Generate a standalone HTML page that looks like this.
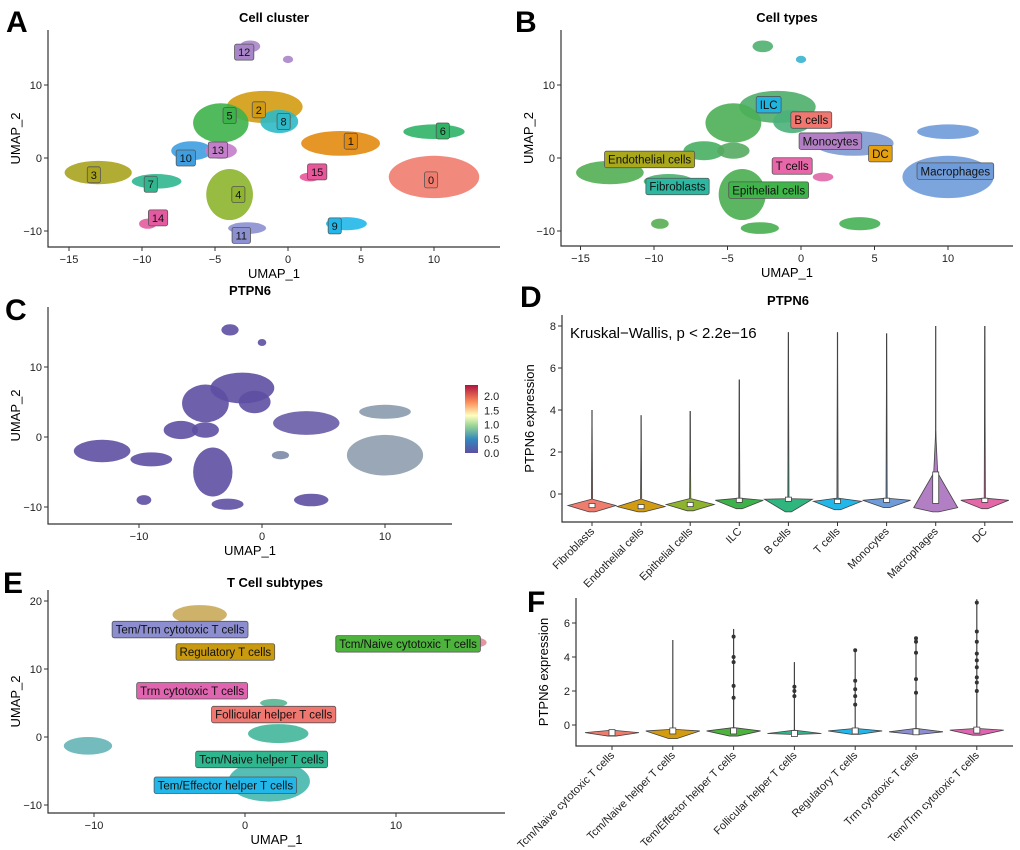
<!DOCTYPE html>
<html><head><meta charset="utf-8"><style>
html,body{margin:0;padding:0;background:#fff;}
svg{display:block;font-family:"Liberation Sans",Arial,sans-serif;}
</style></head><body>
<svg id="fig" width="1020" height="850" viewBox="0 0 1020 850" xmlns="http://www.w3.org/2000/svg"></svg>
<script>
// ---------- DATA ----------
const clusterIds = ['0','1','2','3','4','5','6','7','8','9','10','11','12','13','14','15','12b'];
const clusterCx = [10,3.6,-1.6,-13,-4,-4.6,10,-9,-0.6,4,-6.6,-2.8,-2.6,-4.6,-9.6,1.5,0];
const clusterCy = [-2.6,2,7,-2,-5,4.8,3.6,-3.2,5,-9,1,-9.6,15.3,1,-9,-2.6,13.5];
const clusterRx = [3.1,2.7,2.6,2.3,1.6,1.9,2.1,1.7,1.3,1.4,1.4,1.3,0.7,1.1,0.6,0.7,0.35];
const clusterRy = [2.9,1.7,2.2,1.6,3.5,2.7,1.0,1.0,1.6,0.9,1.3,0.8,0.8,1.1,0.7,0.6,0.5];
const colorsA = ['#F07C6E','#E3890F','#D39B10','#A9A31E','#8DB42C','#3DB24A','#2FB467','#2FB68F','#2EBAC8','#22B7E8','#3F9EE0','#8C90D0','#A885C9','#C37DCB','#E45AA0','#E7579A','#A885C9'];
const colorsB = ['#6F9BD9','#7D9AD2','#4EAE6A','#52AE52','#4AAE50','#4BAF56','#6F9BD9','#4DB06E','#4BB07A','#45B055','#48AF62','#48AE4F','#4FB070','#55AA60','#58AE52','#E066A8','#3BB4D0'];
const colorsC = ['#8E9DAE','#685CA6','#5E4FA2','#5E4FA2','#5E4FA2','#5E4FA2','#8A9BAE','#5E4FA2','#5E4FA2','#5E4FA2','#5E4FA2','#5E4FA2','#5E4FA2','#5E4FA2','#5E4FA2','#7C89A6','#5E4FA2'];
const labelsA = ['12','2','5','8','1','6','10','13','15','0','3','7','4','14','11','9'];
const labelAx = [-3,-2,-4,-0.3,4.3,10.6,-7,-4.8,2,9.8,-13.3,-9.4,-3.4,-8.9,-3.2,3.2];
const labelAy = [14.5,6.6,5.8,5,2.3,3.7,0,1.1,-1.9,-3,-2.3,-3.6,-5,-8.2,-10.6,-9.3];
const labelAcol = ['#A885C9','#D39B10','#3DB24A','#2EBAC8','#E3890F','#2FB467','#3F9EE0','#C37DCB','#E7579A','#F07C6E','#A9A31E','#2FB68F','#8DB42C','#E45AA0','#8C90D0','#22B7E8'];
const labelsB = ['ILC','B cells','Monocytes','DC','T cells','Macrophages','Endothelial cells','Fibroblasts','Epithelial cells'];
const labelBx = [-2.2,0.7,2,5.4,-0.6,10.5,-10.3,-8.4,-2.2];
const labelBy = [7.3,5.2,2.3,0.6,-1.1,-1.8,-0.2,-3.9,-4.4];
const labelBcol = ['#1DB4E0','#F07670','#B27FC4','#E5A00F','#E867A9','#6F9BD9','#A9A81C','#2CB8A0','#3EB449'];
const umapXTicks = [-15,-10,-5,0,5,10];
const umapYTicks = [-10,0,10];
const cXTicks = [-10,0,10];
const colorbarTicks = ['0.0','0.5','1.0','1.5','2.0'];

const dCats = ['Fibroblasts','Endothelial cells','Epithelial cells','ILC','B cells','T cells','Monocytes','Macrophages','DC'];
const dColors = ['#F07C6E','#D39B10','#8DB42C','#3DB24A','#2FB67E','#22B7E8','#6F9BD9','#B27FC4','#E467A8'];
const dMax = [4.0,3.75,3.95,5.45,7.7,7.7,7.65,8.0,8.0];
const dMin = [-0.85,-0.85,-0.8,-0.7,-0.85,-0.75,-0.65,-0.85,-0.7];
const dMed = [-0.55,-0.6,-0.5,-0.3,-0.25,-0.35,-0.3,-0.35,-0.3];
const dTop = [-0.25,-0.25,-0.22,-0.2,-0.22,-0.2,-0.2,-0.1,-0.2];
const dQ3 = [-0.45,-0.5,-0.4,-0.25,-0.22,-0.3,-0.25,1.05,-0.22];
const dYTicks = [0,2,4,6,8];

const fCats = ['Tcm/Naive cytotoxic T cells','Tcm/Naive helper T cells','Tem/Effector helper T cells','Follicular helper T cells','Regulatory T cells','Trm cytotoxic T cells','Tem/Trm cytotoxic T cells'];
const fColors = ['#F07C6E','#D39B10','#4DB33D','#2FB68F','#22B7E8','#8C8ED0','#E064B0'];
const fMax = [-0.3,5.0,5.65,3.7,4.4,5.15,7.4];
const fMin = [-0.65,-0.8,-0.65,-0.55,-0.55,-0.55,-0.6];
const fMed = [-0.45,-0.35,-0.35,-0.5,-0.35,-0.4,-0.3];
const fTop = [-0.3,-0.25,-0.15,-0.3,-0.2,-0.2,-0.2];
const fOutY = [[],[],[1.6,2.3,3.7,4.0,5.2],[1.7,2.0,2.25],[1.2,1.7,2.1,2.6,4.4],[1.9,2.7,4.25,4.9,5.1],[2.0,2.5,2.8,3.4,3.8,4.2,4.9,5.5,7.2]];
const fYTicks = [0,2,4,6];

const eCx = [-3,15.3,-10.4,1.9,2.2,1.6];
const eCy = [18,13.9,-1.3,5,0.5,-6.5];
const eRx = [1.8,0.7,1.6,0.9,2.0,2.7];
const eRy = [1.4,0.7,1.3,0.6,1.4,3.0];
const eCol = ['#C6A550','#D9878E','#5AAFB0','#4FB08C','#37B293','#3AB3A8'];
const eLabels = ['Tem/Trm cytotoxic T cells','Regulatory T cells','Tcm/Naive cytotoxic T cells','Trm cytotoxic T cells','Follicular helper T cells','Tcm/Naive helper T cells','Tem/Effector helper T cells'];
const eLx = [-4.3,-1.3,10.8,-3.5,1.9,1.1,-1.3];
const eLy = [15.8,12.5,13.7,6.8,3.3,-3.3,-7.1];
const eLcol = ['#8C8ED0','#C99A0E','#4DB33D','#E064B0','#F07670','#2FB68F','#22B7E8'];
const eXTicks = [-10,0,10];
const eYTicks = [-10,0,10,20];

// ---------- HELPERS ----------
const NS='http://www.w3.org/2000/svg';
const svg=document.getElementById('fig');
function mk(tag,parent,attrs){const e=document.createElementNS(NS,tag);for(const k in attrs)e.setAttribute(k,attrs[k]);parent.appendChild(e);return e;}
function txt(parent,s,x,y,size,opt){const t=mk('text',parent,Object.assign({x:x,y:y,'font-size':size,fill:'#000'},opt||{}));t.textContent=s;return t;}
function lin(a0,a1,p0,p1){return v=>p0+(v-a0)*(p1-p0)/(a1-a0);}

function axes(g,x,y,box,xt,yt,xlab,ylab){
  const ax=mk('path',g,{d:`M${box.l},${box.t}V${box.b}H${box.r}`,stroke:'#333',fill:'none','stroke-width':1.2});
  
  
  xt.forEach(v=>{mk('line',g,{x1:x(v),x2:x(v),y1:box.b,y2:box.b+4,stroke:'#333'});
    const t=txt(g,v<0?'\u2212'+(-v):String(v),x(v),box.b+16,11,{'text-anchor':'middle',fill:'#222'});
    
    });
  yt.forEach(v=>{mk('line',g,{x1:box.l-4,x2:box.l,y1:y(v),y2:y(v),stroke:'#333'});
    const t=txt(g,v<0?'\u2212'+(-v):String(v),box.l-6,y(v)+4,11,{'text-anchor':'end',fill:'#222'});
    
    });
  if(xlab){const t=txt(g,xlab,(box.l+box.r)/2,box.b+31,13,{'text-anchor':'middle'});
    
    }
  if(ylab){const yy=(box.t+box.b)/2;const t=txt(g,ylab,0,0,13,{'text-anchor':'middle',transform:`translate(${box.l-28},${yy}) rotate(-90)`});
    
    }
}
function title(g,s,x,y){const t=txt(g,s,x,y,13,{'text-anchor':'middle','font-weight':'bold'});
  
  }
function letter(g,s,x,y){const t=txt(g,s,x,y,30,{'font-weight':'bold'});
  
  }
function tag(g,s,cx,cy,col,size){
  const r=mk('rect',g,{rx:2,fill:col,stroke:'#555','stroke-width':0.8});
  
  
  const t=txt(g,s,cx,cy+size*0.36,size,{'text-anchor':'middle',fill:'#111'});
  
  
  let w=s.length*size*0.5;
  try{w=t.getComputedTextLength();}catch(e){}
  w+=7;const h=size+5;
  r.setAttribute('x',cx-w/2);r.setAttribute('y',cy-h/2);r.setAttribute('width',w);r.setAttribute('height',h);
}
function umapPanel(name,box,xs,ys,colors){
  const g=mk('g',svg,{});
  
  
  clusterIds.forEach((id,i)=>{
    const e=mk('ellipse',g,{cx:xs(clusterCx[i]),cy:ys(clusterCy[i]),rx:Math.abs(xs(clusterRx[i])-xs(0)),ry:Math.abs(ys(clusterRy[i])-ys(0)),fill:colors[i],opacity:0.9});
    
    
  });
  return g;
}

// ---------- PANEL A ----------
{
  const box={l:48,r:500,t:30,b:247};
  const x=lin(0,10,288,434), y=lin(0,10,158,85);
  const g=umapPanel('panel-a-cluster-umap',box,x,y,colorsA);
  axes(g,x,y,box,umapXTicks,umapYTicks,'UMAP_1','UMAP_2');
  title(g,'Cell cluster',274,22);letter(g,'A',6,32);
  labelsA.forEach((s,i)=>tag(g,s,x(labelAx[i]),y(labelAy[i]),labelAcol[i],11));
}
// ---------- PANEL B ----------
{
  const box={l:561,r:1013,t:30,b:246};
  const x=lin(0,10,801,948), y=lin(0,10,158,85);
  const g=umapPanel('panel-b-celltype-umap',box,x,y,colorsB);
  axes(g,x,y,box,umapXTicks,umapYTicks,'UMAP_1','UMAP_2');
  title(g,'Cell types',787,22);letter(g,'B',515,32);
  labelsB.forEach((s,i)=>tag(g,s,x(labelBx[i]),y(labelBy[i]),labelBcol[i],11.5));
}
// ---------- PANEL C ----------
{
  const box={l:48,r:452,t:307,b:524};
  const x=lin(0,10,262,385), y=lin(0,10,437,367);
  const g=umapPanel('panel-c-ptpn6-umap',box,x,y,colorsC);
  axes(g,x,y,box,cXTicks,umapYTicks,'UMAP_1','UMAP_2');
  title(g,'PTPN6',250,295);letter(g,'C',5,320);
  const defs=mk('defs',g,{});
  const lg=mk('linearGradient',defs,{id:'spec',x1:0,y1:1,x2:0,y2:0});
  [['0','#5E4FA2'],['0.2','#3288BD'],['0.4','#99D594'],['0.55','#FFFFBF'],['0.75','#FC8D59'],['1','#B0133F']].forEach(s=>mk('stop',lg,{offset:s[0],'stop-color':s[1]}));
  const cb=mk('rect',g,{x:465,y:385,width:13,height:68,fill:'url(#spec)'});
  
  
  const cy=lin(0,2,453,396);
  colorbarTicks.forEach(s=>{const t=txt(g,s,484,cy(parseFloat(s))+4,11,{fill:'#222'});
    
    });
}
// ---------- PANEL D ----------
{
  const box={l:562,r:1013,t:315,b:522};
  const x=i=>592+i*49.1, y=lin(0,8,494,326);
  const g=mk('g',svg,{});
  
  
  dCats.forEach((c,i)=>{
    const cx=x(i), w=i===7?22:24;
    const ln=mk('line',g,{x1:cx,x2:cx,y1:y(dTop[i]),y2:y(dMax[i]),stroke:'#444','stroke-width':1.2});
    
    
    const mid=i===7?(dMin[i]+dMed[i])/2-0.05:dMed[i];
    const d=`M${cx},${y(dMax[i])-0}L${cx+0.6},${y(dTop[i])}L${cx+w},${y(mid)}L${cx+3},${y(dMin[i])}L${cx-3},${y(dMin[i])}L${cx-w},${y(mid)}L${cx-0.6},${y(dTop[i])}Z`;
    const v=mk('path',g,{d:i===7?`M${cx},${y(3)}L${cx+2},${y(1)}L${cx+w},${y(mid)}L${cx+3},${y(dMin[i])}L${cx-3},${y(dMin[i])}L${cx-w},${y(mid)}L${cx-2},${y(1)}Z`:d,fill:dColors[i],stroke:'#444','stroke-width':0.8});
    
    
    const b=mk('rect',g,{x:cx-3,y:y(Math.max(dQ3[i],dMed[i]+0.1)),width:6,height:Math.max(4,y(dMed[i]-0.1)-y(Math.max(dQ3[i],dMed[i]+0.1))),fill:'#fff',stroke:'#444','stroke-width':0.8});
    
    
    const t=txt(g,c,0,0,11,{'text-anchor':'end',transform:`translate(${cx+3},${box.b+10}) rotate(-45)`,fill:'#222'});
    
    
  });
  axes(g,x,y,box,[],dYTicks,null,'PTPN6 expression');
  dCats.forEach((c,i)=>mk('line',g,{x1:x(i),x2:x(i),y1:box.b,y2:box.b+4,stroke:'#333'}));
  title(g,'PTPN6',788,305);letter(g,'D',520,307);
  const k=txt(g,'Kruskal\u2212Wallis, p < 2.2e\u221216',570,338,15);
  
  
}
// ---------- PANEL E ----------
{
  const box={l:48,r:505,t:590,b:813};
  const x=lin(0,10,245,396), y=lin(0,10,737,669);
  const g=mk('g',svg,{});
  
  
  eCx.forEach((v,i)=>{const e=mk('ellipse',g,{cx:x(v),cy:y(eCy[i]),rx:x(eRx[i])-x(0),ry:y(0)-y(eRy[i]),fill:eCol[i],opacity:0.85});
    
    });
  axes(g,x,y,box,eXTicks,eYTicks,'UMAP_1','UMAP_2');
  title(g,'T Cell subtypes',275,587);letter(g,'E',3,593);
  eLabels.forEach((s,i)=>tag(g,s,x(eLx[i]),y(eLy[i]),eLcol[i],11.5));
}
// ---------- PANEL F ----------
{
  const box={l:576,r:1013,t:598,b:746};
  const x=i=>612+i*60.8, y=lin(0,6,725,623);
  const g=mk('g',svg,{});
  
  
  fCats.forEach((c,i)=>{
    const cx=x(i), w=27;
    if(fMax[i]>fTop[i]){const ln=mk('line',g,{x1:cx,x2:cx,y1:y(fTop[i]),y2:y(fMax[i]),stroke:'#444','stroke-width':1.2});
      
      }
    const v=mk('path',g,{d:`M${cx},${y(fTop[i])}L${cx+w},${y(fMed[i])}L${cx+4},${y(fMin[i])}L${cx-4},${y(fMin[i])}L${cx-w},${y(fMed[i])}Z`,fill:fColors[i],stroke:'#444','stroke-width':0.8});
    
    
    const b=mk('rect',g,{x:cx-3,y:y(fMed[i])-3,width:6,height:6,fill:'#fff',stroke:'#444','stroke-width':0.8});
    
    
    fOutY[i].forEach(o=>{const p=mk('circle',g,{cx:cx,cy:y(o),r:2,fill:'#333'});
      
      });
    mk('line',g,{x1:cx,x2:cx,y1:box.b,y2:box.b+4,stroke:'#333'});
    const t=txt(g,c,0,0,11,{'text-anchor':'end',transform:`translate(${cx+3},${box.b+10}) rotate(-45)`,fill:'#222'});
    
    
  });
  axes(g,x,y,box,[],fYTicks,null,'PTPN6 expression');
  letter(g,'F',527,612);
}
</script>
</body></html>
